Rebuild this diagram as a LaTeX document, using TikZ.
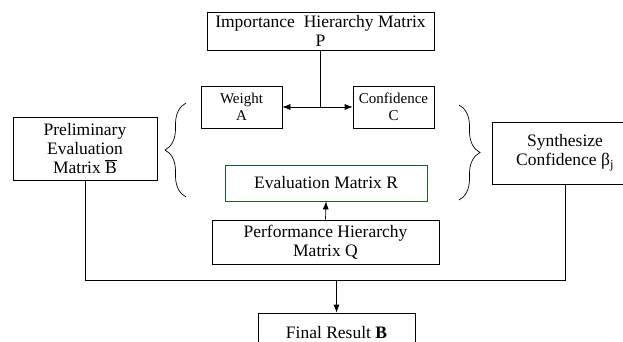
\documentclass[tikz,border=0pt]{standalone}
\usepackage{fontspec}
\setmainfont{Liberation Serif}
\usetikzlibrary{arrows.meta,decorations.pathreplacing,positioning,calc}
\definecolor{evalgreen}{RGB}{25,95,40}
\tikzset{
    box/.style={draw,rectangle,align=center,inner sep=0pt,line width=0.7pt,font=\fontsize{17.5}{19}\selectfont},
    smallbox/.style={box,minimum width=81pt,minimum height=42pt,font=\fontsize{15}{17}\selectfont},
    greenbox/.style={box,draw=evalgreen},
    line/.style={-,line width=0.7pt},
    arr/.style={-{Latex[length=8pt,width=6pt]},line width=0.7pt},
    dblarr/.style={{Latex[length=8pt,width=6pt]}-{Latex[length=8pt,width=6pt]},line width=0.7pt},
    curly/.style={decorate,decoration={brace,amplitude=21pt},line width=0.7pt},
}
\begin{document}
\begin{tikzpicture}[x=1pt,y=-1pt]
    \useasboundingbox (0,0) rectangle (623,342);
    \node[box,minimum width=227pt,minimum height=38pt] (imp) at (320.5,31) {Importance\ \ Hierarchy Matrix\\P};
    \node[smallbox] (weight) at (241.5,107) {Weight\\A};
    \node[smallbox] (conf) at (393.5,107) {Confidence\\C};
    \node[box,minimum width=144pt,minimum height=63pt] (prelim) at (85,148.5) {Preliminary\\Evaluation\\Matrix $\overline{\mbox{B}}$};
    \node[box,minimum width=146pt,minimum height=62pt] (synth) at (565,153) {Synthesize\\Confidence β\textsubscript{j}};
    \node[greenbox,minimum width=202pt,minimum height=36pt] (evalR) at (326,183) {Evaluation Matrix R};
    \node[box,minimum width=227pt,minimum height=44pt] (perfQ) at (325.5,242) {Performance Hierarchy\\Matrix Q};
    \node[box,minimum width=157pt,minimum height=40pt] (final) at (336.5,333) {Final Result \textbf{B}};
    \coordinate (bus) at (0,280);
    % braces round the middle block
    \draw[curly] (186,197) -- (186,103);
    \draw[curly] (459,105) -- (459,200);
    \draw[line] (imp.south) -- (imp.south |- weight.east) coordinate (mid);
    \draw[dblarr] (weight.east) -- (conf.west);
    \draw[arr] (perfQ.north) -- (evalR.south);
    \draw[line] (prelim.south) -- (prelim.south |- bus) -- (synth.south |- bus) -- (synth.south);
    \draw[arr] (final.north |- bus) -- (final.north);
\end{tikzpicture}
\end{document}
